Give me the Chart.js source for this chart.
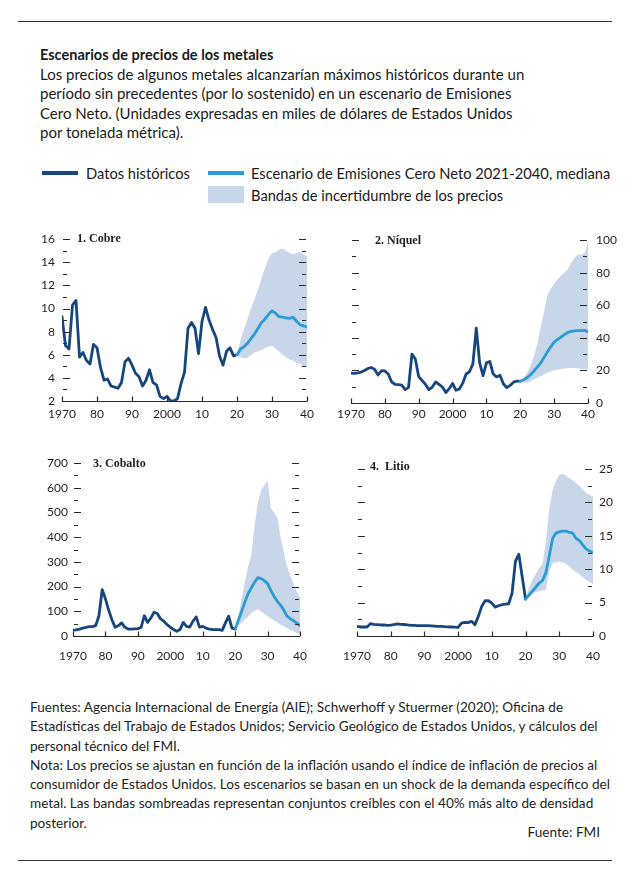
<!DOCTYPE html>
<html><head><meta charset="utf-8">
<script src="https://cdn.jsdelivr.net/npm/chart.js@4"></script>
<style>
body{margin:0;background:#fff;width:638px;height:877px;position:relative;font-family:Lato,'Open Sans',sans-serif;color:#1a1a1a;overflow:hidden}
.abs{position:absolute;white-space:nowrap}
.rule{position:absolute;left:18px;width:594px;height:1px;background:#333}
.head{font-size:15px;line-height:19.5px}
.head b{font-size:14.5px}
.leg{font-size:14.7px;line-height:18px}
.foot{font-size:13.6px;line-height:19.3px;color:#1e1e1e;font-weight:400}
.ptitle{font-family:'Liberation Serif','DejaVu Serif',serif;font-weight:bold;font-size:12px;color:#231f20}
canvas{position:absolute}
</style>
</head><body>
<div class="rule" style="top:21px"></div>
<div class="abs head" style="left:40px;top:45px">
<b>Escenarios de precios de los metales</b><br>
Los precios de algunos metales alcanzarían máximos históricos durante un<br>
período sin precedentes (por lo sostenido) en un escenario de Emisiones<br>
Cero Neto. (Unidades expresadas en miles de dólares de Estados Unidos<br>
por tonelada métrica).
</div>
<div class="abs" style="left:42px;top:171px;width:36px;height:4px;background:#17467f"></div>
<div class="abs leg" style="left:86px;top:164px">Datos históricos</div>
<div class="abs" style="left:208px;top:171px;width:36px;height:4px;background:#2a9bd5"></div>
<div class="abs leg" style="left:251px;top:164px">Escenario de Emisiones Cero Neto 2021-2040, mediana</div>
<div class="abs" style="left:208px;top:186px;width:36px;height:17px;background:rgb(200,214,233)"></div>
<div class="abs leg" style="left:251px;top:186px">Bandas de incertidumbre de los precios</div>

<canvas id="c1" width="300" height="200" style="left:20px;top:225px"></canvas>
<canvas id="c2" width="300" height="200" style="left:330px;top:225px"></canvas>
<canvas id="c3" width="300" height="215" style="left:20px;top:450px"></canvas>
<canvas id="c4" width="300" height="215" style="left:330px;top:450px"></canvas>

<div class="abs ptitle" style="left:77px;top:231px">1. Cobre</div>
<div class="abs ptitle" style="left:375px;top:233px">2. Níquel</div>
<div class="abs ptitle" style="left:93px;top:456px">3. Cobalto</div>
<div class="abs ptitle" style="left:370px;top:459px">4.&nbsp; Litio</div>

<div class="abs foot" style="left:30px;top:698px">
Fuentes: Agencia Internacional de Energía (AIE); Schwerhoff y Stuermer (2020); Oficina de<br>
Estadísticas del Trabajo de Estados Unidos; Servicio Geológico de Estados Unidos, y cálculos del<br>
personal técnico del FMI.<br>
Nota: Los precios se ajustan en función de la inflación usando el índice de inflación de precios al<br>
consumidor de Estados Unidos. Los escenarios se basan en un shock de la demanda específico del<br>
metal. Las bandas sombreadas representan conjuntos creíbles con el 40% más alto de densidad<br>
posterior.
</div>
<div class="abs foot" style="right:38px;top:823px">Fuente: FMI</div>
<div class="rule" style="top:860px"></div>

<script>
// ---- categories / tick labels ----
const histStart = 1970;
const scenStart = 2020;
const xTickLabels = ['1970','80','90','2000','10','20','30','40'];

// ---- 1. Cobre ----
const copperHist = [9.3,6.8,6.5,10.3,10.7,5.8,6.2,5.5,5.2,6.9, 6.6,4.9,3.8,3.9,3.3,3.2,3.1,3.6,5.4,5.7, 5.1,4.4,4.1,3.3,3.8,4.7,3.6,3.4,2.4,2.2, 2.4,2.0,2.0,2.2,3.5,4.5,8.3,8.8,8.3,6.1, 8.9,10.1,9.0,8.2,7.5,5.9,5.1,6.3,6.6,5.9, 6.0];
const copperScen = [6.0,6.5,6.7,7.0,7.4,7.8,8.3,8.8,9.1,9.5,9.8,9.6,9.3,9.25,9.2,9.15,9.25,8.9,8.6,8.5,8.4];
const copperUp = [6.0,7.3,8.2,9.1,10.0,10.8,11.7,12.6,13.5,14.3,14.8,14.9,15.1,15.2,15.0,14.8,14.7,14.8,14.9,14.7,14.5];
const copperLo = [6.0,5.8,5.7,5.75,6.0,6.2,6.3,6.4,6.6,6.7,6.8,6.5,6.3,6.0,5.8,5.6,5.5,5.3,5.2,5.0,4.9];

// ---- 2. Níquel ----
const nickelHist = [18.4,18.2,18.5,19,20,21.2,21.8,20.6,17.2,19.8, 19.7,17.8,12.9,11.5,11.3,11,8.2,9.6,30,27, 16.2,13.8,11.4,8.2,9.8,12.9,11.4,9.8,6.4,8.8, 12,7.8,8.6,12.2,17.8,19.2,24,46,24.7,16.8, 24.7,25.5,17.8,16,17,11.8,9.4,10.8,12.8,13.4, 13.4];
const nickelScen = [13.4,14.3,15.5,17.3,19.5,22,24.5,28,31.4,34.5,37.4,39,40.4,42,43.3,44,44.3,44.5,44.5,44.6,43.8];
const nickelUp = [13.4,15.5,18.5,23,28.4,36,46.3,56,66.2,70,73.2,76,78.1,80,82.1,86,89,91,91,92,99];
const nickelLo = [13.4,12.8,12.5,13.5,14.5,15.5,16.5,17.5,18.5,19.3,20.1,20.5,20.9,21.2,21.5,21.5,21.5,21.3,20.9,20.7,20.5];

// ---- 3. Cobalto ----
const cobaltHist = [24,25,28,32,35,38,38,42,82,188, 150,105,65,35,42,53,35,28,28,29, 30,35,82,55,73,96,91,69,60,46, 36,26,19,26,55,39,36,60,77,36, 39,32,28,26,26,26,23,53,80,32, 28];
const cobaltScen = [28,65,100,138,172,195,218,236,232,224,212,185,160,140,125,105,80,70,62,52,42];
const cobaltUp = [30,80,150,220,280,330,450,540,590,610,630,518,500,480,400,340,280,245,210,180,155];
const cobaltLo = [27,42,55,68,80,92,102,108,100,90,80,72,63,55,47,40,32,25,18,12,6];

// ---- 4. Litio ----
const lithiumHist = [1.45,1.35,1.35,1.35,1.84,1.75,1.7,1.65,1.65,1.6, 1.64,1.72,1.8,1.75,1.72,1.65,1.6,1.58,1.56,1.55, 1.54,1.55,1.52,1.48,1.45,1.44,1.4,1.38,1.35,1.32, 1.3,1.94,2.04,2.0,2.2,1.7,2.94,4.43,5.28,5.28, 4.93,4.33,4.53,4.68,4.78,4.83,6.42,11.16,12.25,8.9, 5.53];
const lithiumScen = [5.53,6.1,6.7,7.3,7.9,8.3,9.4,11.9,14.6,15.4,15.6,15.7,15.7,15.5,15.4,14.6,14.3,13.6,13.0,12.7,12.5];
const lithiumUp = [5.53,7.2,8.4,9.3,10.2,10.7,14,19,21.8,23.2,24.1,24.3,24,23.6,23.3,22.9,22.5,21.9,21.4,21.1,20.9];
const lithiumLo = [5.53,5.9,6.4,6.6,6.7,6.8,6.9,9.7,10.8,11.0,11.1,11.0,10.8,10.4,9.9,9.6,9.2,8.8,8.4,8.1,7.8];

const DARK = '#17467f', LIGHT = '#2a9bd5', BAND = 'rgb(200,214,233)', TXT = '#231f20';
const FONT = {family:"Lato, 'Open Sans', sans-serif", size:12};

function pts(arr, start){ return arr.map((v,i)=>({x:start+i, y:v})); }

function panel(id, o){
  const inward = {
    id:'inward'+id,
    afterDraw(chart){
      const {ctx, chartArea:a, scales:{x, y}} = chart;
      ctx.save();
      ctx.strokeStyle = '#2b2b2b';
      ctx.lineWidth = 1.2;
      ctx.beginPath();
      for(let v = o.min + o.minor; v <= o.max + 1e-9; v += o.minor){
        const py = Math.round(y.getPixelForValue(v)) + 0.5;
        const major = Math.abs(v/o.step - Math.round(v/o.step)) < 1e-6;
        const len = major ? 7 : 4;
        ctx.moveTo(a.left + 1, py); ctx.lineTo(a.left + 1 + len, py);
        ctx.moveTo(a.right - 1 - len, py); ctx.lineTo(a.right - 1, py);
      }
      const by = Math.round(y.getPixelForValue(o.min)) + 0.5;
      ctx.moveTo(a.left, by); ctx.lineTo(a.right, by);
      for(let yr = 1970; yr <= 2040; yr += 10){
        const px = Math.round(x.getPixelForValue(yr)) + 0.5;
        ctx.moveTo(px, by); ctx.lineTo(px, by - 5);
      }
      ctx.stroke();
      ctx.restore();
    }
  };
  new Chart(document.getElementById(id), {
    type:'line',
    data:{datasets:[
      {data:pts(o.lo, scenStart), order:3, borderWidth:0, borderColor:'rgba(0,0,0,0)', pointRadius:0, fill:false},
      {data:pts(o.up, scenStart), order:2, borderWidth:0, borderColor:'rgba(0,0,0,0)', pointRadius:0, fill:'-1', backgroundColor:BAND},
      {data:pts(o.hist, histStart), order:1, borderColor:DARK, borderWidth:2.8, pointRadius:0, fill:false, borderJoinStyle:'round', borderCapStyle:'round'},
      {data:pts(o.scen, scenStart), order:0, borderColor:LIGHT, borderWidth:2.8, pointRadius:0, fill:false, borderJoinStyle:'round', borderCapStyle:'round'}
    ]},
    options:{
      responsive:false, animation:false, events:[],
      layout:{padding:o.pad},
      plugins:{legend:{display:false}, tooltip:{enabled:false}},
      scales:{
        x:{type:'linear', min:1970, max:2040,
           grid:{display:false, drawTicks:false}, border:{display:false},
           ticks:{stepSize:10, autoSkip:false, maxRotation:0, padding:o.xpad, color:TXT, font:FONT,
                  callback:(v)=>xTickLabels[Math.round((v-1970)/10)]},
           afterFit:(s)=>{s.height = o.xh;}},
        y:{position:o.side, min:o.min, max:o.max,
           grid:{display:false, drawTicks:false}, border:{display:false},
           ticks:{stepSize:o.step, padding:o.ypad, color:TXT, font:FONT, autoSkip:false},
           afterFit:(s)=>{s.width = o.yw;}}
      }
    },
    plugins:[inward]
  });
}

panel('c1', {hist:copperHist, scen:copperScen, up:copperUp, lo:copperLo, min:2, max:16, step:2, minor:1,
  side:'left', yw:42, xh:24, xpad:6, ypad:7, pad:{left:0, right:9, top:10, bottom:0}});
panel('c2', {hist:nickelHist, scen:nickelScen, up:nickelUp, lo:nickelLo, min:0, max:100, step:20, minor:10,
  side:'right', yw:42, xh:22, xpad:4, ypad:8, pad:{left:21, right:0, top:11, bottom:0}});
panel('c3', {hist:cobaltHist, scen:cobaltScen, up:cobaltUp, lo:cobaltLo, min:0, max:700, step:100, minor:50,
  side:'left', yw:53, xh:29, xpad:13, ypad:5, pad:{left:0, right:11, top:13, bottom:0}});
panel('c4', {hist:lithiumHist, scen:lithiumScen, up:lithiumUp, lo:lithiumLo, min:0, max:25, step:5, minor:2.5,
  side:'right', yw:37, xh:29, xpad:13, ypad:6, pad:{left:22, right:0, top:19, bottom:0}});
</script>
</body></html>
